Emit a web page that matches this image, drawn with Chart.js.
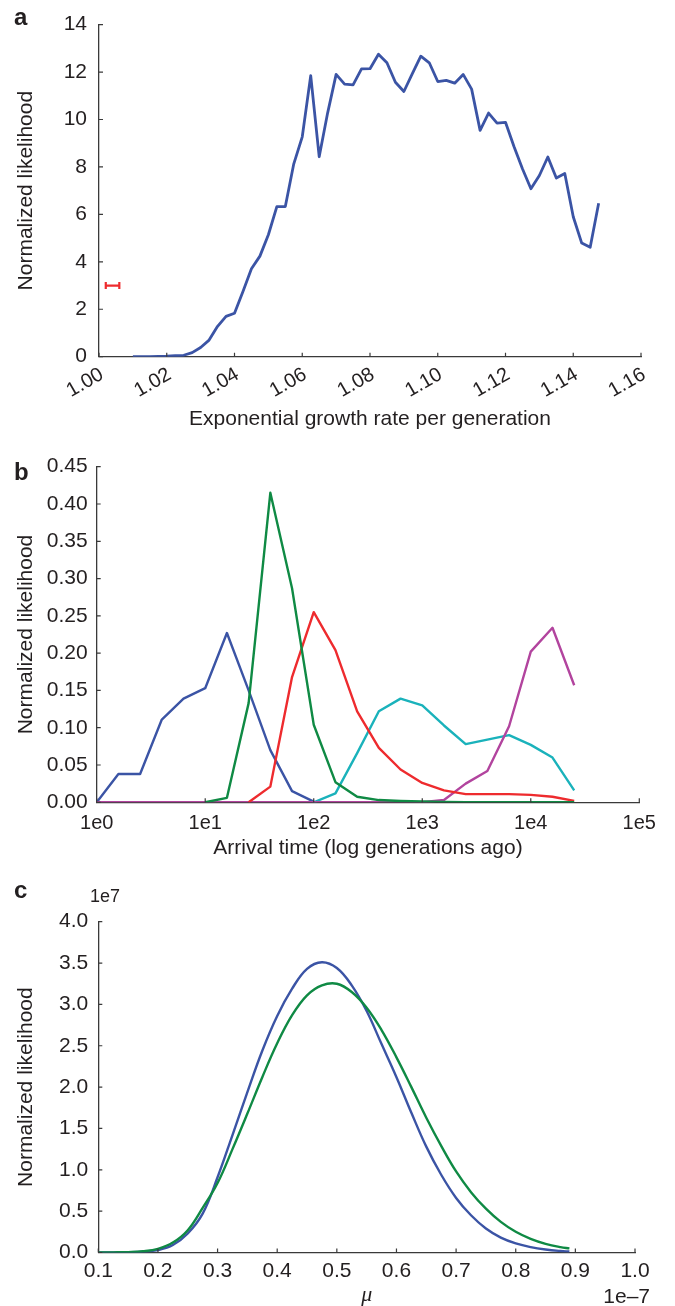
<!DOCTYPE html>
<html>
<head>
<meta charset="utf-8">
<title>Normalized likelihood panels</title>
<script src="https://cdn.jsdelivr.net/npm/chart.js@4.4.1/dist/chart.umd.min.js"></script>
<style>
  body { margin: 0; background: #fff; }
  #page { position: relative; width: 675px; height: 1306px; font-family: 'Liberation Sans', Arial, Helvetica, sans-serif; color: #231f20; }
  #page canvas { position: absolute; left: 0; }
  .panel-lbl { position: absolute; font-weight: bold; font-size: 24px; line-height: 1; }
  .exp-lbl { position: absolute; line-height: 1; }
</style>
</head>
<body>
<div id="page">
  <canvas id="chartA" width="675" height="440" style="top:0"></canvas>
  <canvas id="chartB" width="675" height="440" style="top:440px"></canvas>
  <canvas id="chartC" width="675" height="426" style="top:880px"></canvas>
  <div class="panel-lbl" style="left:14px;top:5px">a</div>
  <div class="panel-lbl" style="left:14px;top:460px">b</div>
  <div class="panel-lbl" style="left:14px;top:878px">c</div>
  <div class="exp-lbl" style="left:90px;top:887px;font-size:18px">1e7</div>
  <div class="exp-lbl" style="right:25px;top:1285px;font-size:21px">1e–7</div>
</div>
<script>
/* ---- Panel a: exponential growth rate ---- */
const growthRate = [
  1.0100, 1.0125, 1.0150, 1.0175, 1.0200, 1.0225, 1.0250, 1.0275, 1.0300, 1.0325,
  1.0350, 1.0375, 1.0400, 1.0425, 1.0450, 1.0475, 1.0500, 1.0525, 1.0550, 1.0575,
  1.0600, 1.0625, 1.0650, 1.0675, 1.0700, 1.0725, 1.0750, 1.0775, 1.0800, 1.0825,
  1.0850, 1.0875, 1.0900, 1.0925, 1.0950, 1.0975, 1.1000, 1.1025, 1.1050, 1.1075,
  1.1100, 1.1125, 1.1150, 1.1175, 1.1200, 1.1225, 1.1250, 1.1275, 1.1300, 1.1325,
  1.1350, 1.1375, 1.1400, 1.1425, 1.1450, 1.1475
];
const likelihoodA = [
  0, 0, 0, 0.01, 0.02, 0.04, 0.06, 0.17, 0.39, 0.70,
  1.28, 1.70, 1.83, 2.75, 3.71, 4.24, 5.14, 6.33, 6.33, 8.13,
  9.27, 11.85, 8.43, 10.28, 11.90, 11.49, 11.46, 12.13, 12.14, 12.75,
  12.39, 11.57, 11.18, 11.93, 12.67, 12.39, 11.60, 11.65, 11.53, 11.90,
  11.28, 9.54, 10.27, 9.85, 9.88, 8.86, 7.92, 7.08, 7.64, 8.42,
  7.53, 7.72, 5.90, 4.79, 4.61, 6.47
];
const errorBarX = [1.002, 1.006];
const errorBarY = 3;
const growthTicks = [1.00, 1.02, 1.04, 1.06, 1.08, 1.10, 1.12, 1.14, 1.16];
const likelihoodTicksA = [0, 2, 4, 6, 8, 10, 12, 14];

/* ---- Panel b: arrival time (generations ago, log scale) ---- */
const arrivalTime = [1, 1.585, 2.512, 3.981, 6.31, 10, 15.85, 25.12, 39.81, 63.1, 100, 158.5,
  251.2, 398.1, 631, 1000, 1585, 2512, 3981, 6310, 10000, 15850, 25120];
const arrivalBlue = [0, 0.038, 0.038, 0.111, 0.139, 0.153, 0.227, 0.150, 0.070, 0.015, 0.001,
  null, null, null, null, null, null, null, null, null, null, null, null];
const arrivalGreen = [null, null, null, null, null, 0, 0.006, 0.133, 0.415, 0.287, 0.104, 0.027,
  0.0075, 0.003, 0.0017, 0.001, 0.0005, 0, 0, 0, 0, 0, 0];
const arrivalRed = [null, null, null, null, null, null, null, 0, 0.021, 0.168, 0.255, 0.204,
  0.122, 0.073, 0.044, 0.026, 0.016, 0.011, 0.011, 0.011, 0.010, 0.0075, 0.002];
const arrivalCyan = [null, null, null, null, null, null, null, null, null, null, 0, 0.012,
  0.066, 0.122, 0.139, 0.130, 0.103, 0.078, 0.084, 0.090, 0.077, 0.060, 0.016];
const arrivalMagenta = [0, 0, 0, 0, 0, 0, 0, 0, 0, 0, 0, 0,
  0, 0, 0, 0, 0.003, 0.025, 0.042, 0.102, 0.202, 0.234, 0.157];
const arrivalTicks = [1, 10, 100, 1000, 10000, 100000];
const likelihoodTicksB = [0, 0.05, 0.10, 0.15, 0.20, 0.25, 0.30, 0.35, 0.40, 0.45];

/* ---- Panel c: mu (x in units of 1e-7, likelihood in units of 1e7) ---- */
const muValues = [0.100, 0.125, 0.150, 0.175, 0.200, 0.225, 0.250, 0.275, 0.300, 0.325, 0.350,
  0.375, 0.400, 0.425, 0.450, 0.475, 0.500, 0.525, 0.550, 0.575, 0.600, 0.625, 0.650,
  0.675, 0.700, 0.725, 0.750, 0.775, 0.800, 0.825, 0.850, 0.875, 0.890];
const muBlue = [0, 0.001, 0.003, 0.01, 0.03, 0.09, 0.23, 0.47, 0.91, 1.42, 1.94,
  2.44, 2.86, 3.19, 3.43, 3.51, 3.44, 3.23, 2.92, 2.52, 2.12, 1.69, 1.28,
  0.94, 0.66, 0.45, 0.29, 0.18, 0.11, 0.065, 0.036, 0.018, 0.012];
const muGreen = [0, 0.002, 0.005, 0.015, 0.045, 0.12, 0.27, 0.54, 0.84, 1.25, 1.68,
  2.12, 2.53, 2.87, 3.11, 3.23, 3.25, 3.15, 2.96, 2.69, 2.36, 2.00, 1.63,
  1.29, 0.98, 0.73, 0.53, 0.37, 0.25, 0.165, 0.105, 0.065, 0.05];
const muTicks = [0.1, 0.2, 0.3, 0.4, 0.5, 0.6, 0.7, 0.8, 0.9, 1.0];
const likelihoodTicksC = [0, 0.5, 1.0, 1.5, 2.0, 2.5, 3.0, 3.5, 4.0];

// ---- Shared styling ----
const FONT = "'Liberation Sans', Arial, Helvetica, sans-serif";
const textColor = '#231f20';
const axisColor = '#3a3a3a';
const C = { blue: '#3b54a5', green: '#0f8a44', red: '#ee2b2e', cyan: '#1ab2bb', magenta: '#b2449e' };

Chart.defaults.font.family = FONT;
Chart.defaults.color = textColor;
Chart.defaults.animation = false;

const pts = (xs, ys) => xs.map((x, i) => ({ x, y: ys[i] }));
const setTicks = list => s => { s.ticks = list.map(v => ({ value: v })); };

// inward tick marks on both axes
const inwardTicks = {
  id: 'inwardTicks',
  afterDraw(chart) {
    const { ctx, chartArea: a, scales: { x, y } } = chart;
    ctx.save();
    ctx.strokeStyle = axisColor;
    ctx.lineWidth = 1.2;
    ctx.beginPath();
    x.ticks.forEach(t => { const p = x.getPixelForValue(t.value); ctx.moveTo(p, a.bottom); ctx.lineTo(p, a.bottom - 4); });
    y.ticks.forEach(t => { const p = y.getPixelForValue(t.value); ctx.moveTo(a.left, p); ctx.lineTo(a.left + 4, p); });
    ctx.stroke();
    ctx.restore();
  }
};

const line = (label, data, color, width, order) => ({
  label, data, borderColor: color, borderWidth: width, pointRadius: 0,
  borderJoinStyle: 'round', fill: false, tension: 0, order
});

const baseOptions = (padding) => ({
  responsive: false,
  layout: { padding },
  plugins: { legend: { display: false }, tooltip: { enabled: false } },
  events: []
});

// ---- Panel a ----
new Chart(document.getElementById('chartA'), {
  type: 'line',
  data: {
    datasets: [
      line('Likelihood', pts(growthRate, likelihoodA), C.blue, 2.8, 1),
      {
        label: 'Estimate', data: pts(errorBarX, [errorBarY, errorBarY]),
        borderColor: C.red, borderWidth: 2.2, order: 0,
        pointStyle: 'line', rotation: 90, pointRadius: 3.5, pointBorderWidth: 2.2, pointBorderColor: C.red
      }
    ]
  },
  options: {
    ...baseOptions({ top: 21, right: 34, bottom: 0, left: 0 }),
    scales: {
      x: {
        type: 'linear', min: 1.0, max: 1.16,
        afterBuildTicks: setTicks(growthTicks),
        afterFit: s => { s.height = 83.3; },
        grid: { display: false, drawTicks: false },
        border: { display: true, color: axisColor, width: 1.3 },
        ticks: { minRotation: 30, maxRotation: 30, padding: 6, labelOffset: 3, font: { size: 20 },
          callback: v => v.toFixed(2) },
        title: { display: true, text: 'Exponential growth rate per generation', font: { size: 21 },
          padding: { top: 0, bottom: 8.4 } }
      },
      y: {
        min: 0, max: 14,
        afterBuildTicks: setTicks(likelihoodTicksA),
        afterFit: s => { s.width = 99; },
        grid: { display: false, drawTicks: false },
        border: { display: true, color: axisColor, width: 1.3 },
        ticks: { padding: 12, font: { size: 21 } },
        title: { display: true, text: 'Normalized likelihood', font: { size: 21 }, padding: { top: 13.4, bottom: 0 } }
      }
    }
  },
  plugins: [inwardTicks]
});

// ---- Panel b ----
new Chart(document.getElementById('chartB'), {
  type: 'line',
  data: {
    datasets: [
      line('Blue', pts(arrivalTime, arrivalBlue), C.blue, 2.4, 4),
      line('Cyan', pts(arrivalTime, arrivalCyan), C.cyan, 2.4, 3),
      line('Magenta', pts(arrivalTime, arrivalMagenta), C.magenta, 2.4, 2),
      line('Red', pts(arrivalTime, arrivalRed), C.red, 2.4, 1),
      line('Green', pts(arrivalTime, arrivalGreen), C.green, 2.4, 0)
    ]
  },
  options: {
    ...baseOptions({ top: 26.7, right: 35.7, bottom: 0, left: 0 }),
    scales: {
      x: {
        type: 'logarithmic', min: 1, max: 100000,
        afterBuildTicks: setTicks(arrivalTicks),
        afterFit: s => { s.height = 77.7; },
        grid: { display: false, drawTicks: false },
        border: { display: true, color: axisColor, width: 1.3 },
        ticks: { padding: 9, maxRotation: 0, font: { size: 20 },
          callback: v => '1e' + Math.round(Math.log10(v)) },
        title: { display: true, text: 'Arrival time (log generations ago)', font: { size: 21 },
          padding: { top: 0, bottom: 19.4 } }
      },
      y: {
        min: 0, max: 0.45,
        afterBuildTicks: setTicks(likelihoodTicksB),
        afterFit: s => { s.width = 96.7; },
        grid: { display: false, drawTicks: false },
        border: { display: true, color: axisColor, width: 1.3 },
        ticks: { padding: 9, font: { size: 21 }, callback: v => v.toFixed(2) },
        title: { display: true, text: 'Normalized likelihood', font: { size: 21 }, padding: { top: 13.4, bottom: 0 } }
      }
    }
  },
  plugins: [inwardTicks]
});

// ---- Panel c ----
new Chart(document.getElementById('chartC'), {
  type: 'line',
  data: {
    datasets: [
      { ...line('Blue', pts(muValues, muBlue), C.blue, 2.4, 1), tension: 0.4 },
      { ...line('Green', pts(muValues, muGreen), C.green, 2.4, 0), tension: 0.4 }
    ]
  },
  options: {
    ...baseOptions({ top: 41.7, right: 40, bottom: 0, left: 0 }),
    scales: {
      x: {
        type: 'linear', min: 0.1, max: 1.0,
        afterBuildTicks: setTicks(muTicks),
        afterFit: s => { s.height = 53.5; },
        grid: { display: false, drawTicks: false },
        border: { display: true, color: axisColor, width: 1.3 },
        ticks: { padding: 6, maxRotation: 0, font: { size: 21 }, callback: v => v.toFixed(1) },
        title: { display: true, text: 'μ', font: { family: "'Liberation Serif', 'DejaVu Serif', serif", size: 22, style: 'italic', lineHeight: 1 },
          padding: { top: 0, bottom: 0 } }
      },
      y: {
        min: 0, max: 4.0,
        afterBuildTicks: setTicks(likelihoodTicksC),
        afterFit: s => { s.width = 98.3; },
        grid: { display: false, drawTicks: false },
        border: { display: true, color: axisColor, width: 1.3 },
        ticks: { padding: 10, font: { size: 21 }, callback: v => v.toFixed(1) },
        title: { display: true, text: 'Normalized likelihood', font: { size: 21 }, padding: { top: 13.4, bottom: 0 } }
      }
    }
  },
  plugins: [inwardTicks]
});
</script>
</body>
</html>
